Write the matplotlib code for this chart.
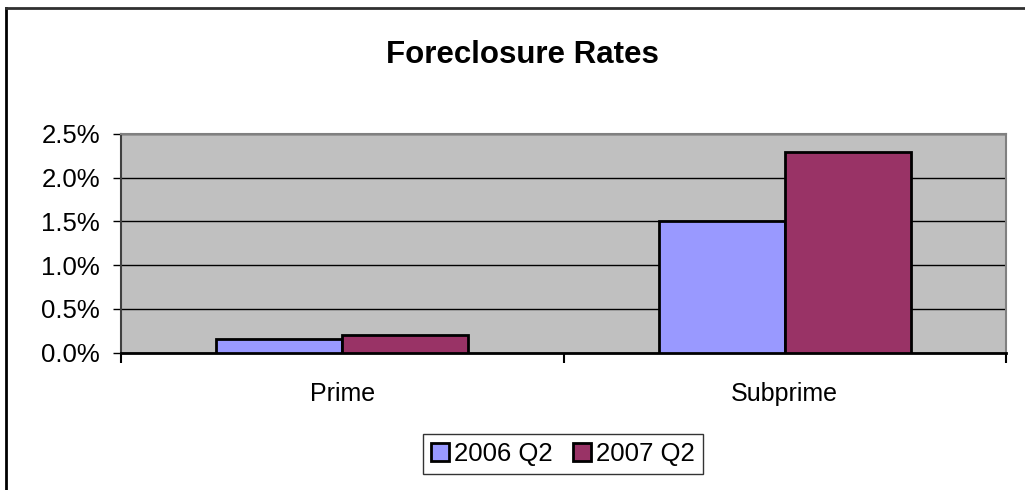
import numpy as np
import matplotlib
matplotlib.use("Agg")
import matplotlib.pyplot as plt
from matplotlib.lines import Line2D
from matplotlib.ticker import FuncFormatter

plt.rcParams['font.family'] = ['Liberation Sans', 'DejaVu Sans']

categories = ['Prime', 'Subprime']
series_names = ['2006 Q2', '2007 Q2']
rate_2006 = [0.16, 1.50]
rate_2007 = [0.20, 2.29]
colors = ['#9999FF', '#993366']

fig = plt.figure(figsize=(10.25, 4.9), dpi=100)
ax = fig.add_axes([121/1025, 1-352.5/490, (1006-121)/1025, (352.5-134)/490])
ax.set_facecolor('#C0C0C0')

x = np.arange(len(categories))
w = 0.285
ax.bar(x - w/2, rate_2006, w, color=colors[0], edgecolor='black', linewidth=2, label=series_names[0], zorder=3)
ax.bar(x + w/2, rate_2007, w, color=colors[1], edgecolor='black', linewidth=2, label=series_names[1], zorder=3)

ax.set_xlim(-0.5, 1.5)
ax.set_ylim(0, 2.5)
ax.set_yticks(np.arange(0, 2.51, 0.5))
ax.yaxis.set_major_formatter(FuncFormatter(lambda v, p: f'{v:.1f}%'))
ax.grid(axis='y', color='black', linewidth=1, zorder=1)

# category ticks sit between groups, labels in the middle
ax.set_xticks([-0.5, 0.5, 1.5])
ax.set_xticklabels([])
ax.set_xticks(x, minor=True)
ax.set_xticklabels(categories, minor=True)
ax.tick_params(axis='x', which='minor', length=0, pad=21, labelsize=18)
ax.tick_params(axis='x', which='major', length=7, width=1.5, color='black', direction='out')
ax.tick_params(axis='y', length=6, width=1, color='black', labelsize=18.5, pad=9)

for s in ['top', 'right']:
    ax.spines[s].set_color('#808080')
    ax.spines[s].set_linewidth(1.5)
ax.spines['left'].set_color('#404040')
ax.spines['left'].set_linewidth(1.5)
ax.spines['bottom'].set_color('black')
ax.spines['bottom'].set_linewidth(2)

fig.text(522/1025, 1-55/490, 'Foreclosure Rates', ha='center', va='center', fontsize=22.5, fontweight='bold')

leg = fig.legend(loc='center', bbox_to_anchor=(563/1025, 1-454/490), ncol=2, fontsize=18.5,
                 frameon=True, fancybox=False, edgecolor='black', handlelength=0.7, handleheight=0.7,
                 handletextpad=0.2, columnspacing=0.8, borderpad=0.3, borderaxespad=0)
leg.get_frame().set_linewidth(1)

# outer chart frame (cropped at right and bottom)
fig.add_artist(Line2D([6/1025, 6/1025], [0, 1-8/490], transform=fig.transFigure, color='black', linewidth=2))
fig.add_artist(Line2D([6/1025, 1], [1-8/490, 1-8/490], transform=fig.transFigure, color='#303030', linewidth=2))

fig.savefig('out.png', dpi=100)
